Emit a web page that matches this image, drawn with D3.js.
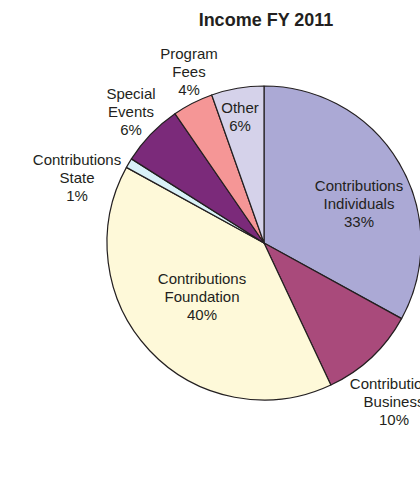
<!DOCTYPE html>
<html>
<head>
<meta charset="utf-8">
<script src="https://cdn.jsdelivr.net/npm/d3@7"></script>
<style>
  body { margin: 0; background: #fff; }
  text { font-family: "Liberation Sans", Arial, sans-serif; fill: #231f20; }
</style>
</head>
<body>
<svg></svg>
<script>
// slices, clockwise from 12 o'clock
let categories = ["Contributions Individuals", "Contributions Business", "Contributions Foundation",
                  "Contributions State", "Special Events", "Program Fees", "Other"];
let values = [33, 10, 40, 1, 6.4, 4.2, 5.4];
let pctLabels = ["33%", "10%", "40%", "1%", "6%", "4%", "6%"];
let nameLines = [["Contributions", "Individuals"], ["Contributions", "Business"], ["Contributions", "Foundation"],
                 ["Contributions", "State"], ["Special", "Events"], ["Program", "Fees"], ["Other"]];
let colors = ["#aba9d5", "#a94a7b", "#fef9d9", "#d9f1f8", "#7b2a7a", "#f59696", "#d5d2ea"];

let svgWidth = 420;
let svgHeight = 495;
let cx = 264, cy = 243, radius = 157;

// label offsets from the pie centre (middle of the text block)
let labelOffsets = [[95, -39], [130, 159], [-62, 54], [-187, -65], [-133, -131], [-75, -171], [-24, -126]];
let lineHeight = 18;

let svg = d3.select("svg")
    .attr("width", svgWidth)
    .attr("height", svgHeight);

svg.append("text")
    .attr("x", 266)
    .attr("y", 26)
    .attr("text-anchor", "middle")
    .style("font-size", "18px")
    .style("font-weight", "bold")
    .text("Income FY 2011");

let pie = d3.pie().sort(null).value(d => d);
let arc = d3.arc().innerRadius(0).outerRadius(radius);

let g = svg.append("g").attr("transform", "translate(" + cx + "," + cy + ")");

g.selectAll("path")
    .data(pie(values))
    .enter()
    .append("path")
    .attr("d", arc)
    .attr("fill", (d, i) => colors[i])
    .attr("stroke", "#231f20")
    .attr("stroke-width", 1.2)
    .attr("stroke-linejoin", "round");

categories.forEach(function(c, i) {
    let lines = nameLines[i].concat([pctLabels[i]]);
    let off = labelOffsets[i];
    let t = g.append("text")
        .attr("text-anchor", "middle")
        .style("font-size", "15px");
    lines.forEach(function(l, j) {
        t.append("tspan")
            .attr("x", off[0])
            .attr("y", off[1] + (j - (lines.length - 1) / 2) * lineHeight + 5)
            .text(l);
    });
});
</script>
</body>
</html>
